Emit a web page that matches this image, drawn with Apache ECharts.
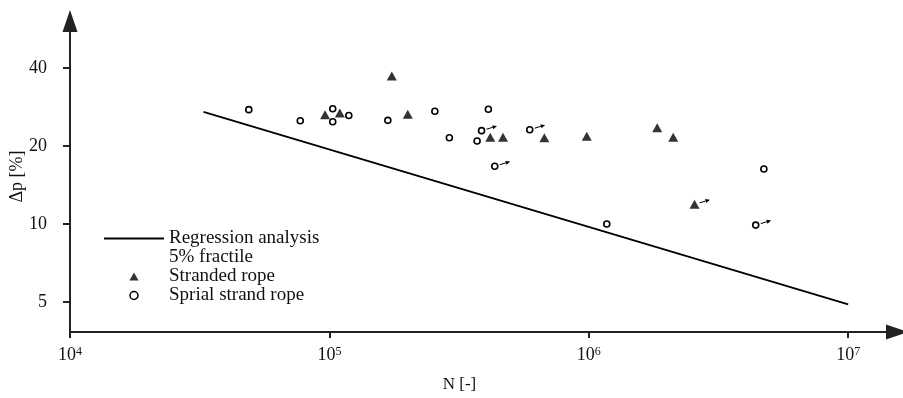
<!DOCTYPE html>
<html><head><meta charset="utf-8">
<script src="https://cdn.jsdelivr.net/npm/echarts@6/dist/echarts.min.js"></script>
<style>html,body{margin:0;padding:0;background:#fff}#c{width:903px;height:398px}</style>
</head><body><div id="c"></div>
<script>
// ---- data ----
const xTicks = [1e4, 1e5, 1e6, 1e7];
const yTicks = [5, 10, 20, 40];

const regressionN  = [32700, 1e7];
const regressionDp = [27.06, 4.90];

const strandedN  = [96200, 109700, 174000, 200500, 417000, 467000, 674000, 982000, 1835000, 2115000, 2556000];
const strandedDp = [26.4, 26.8, 37.2, 26.5, 21.6, 21.6, 21.5, 21.8, 23.5, 21.6, 11.9];
const strandedRunout = [10];

const spiralN  = [48900, 77200, 103000, 103000, 118800, 168000, 255000, 290000, 371000, 386000, 410000, 434000, 592000, 1173000, 4400000, 4730000];
const spiralDp = [27.6, 25.0, 27.8, 24.8, 26.2, 25.1, 27.2, 21.5, 20.9, 22.9, 27.7, 16.7, 23.1, 10.0, 9.9, 16.3];
const spiralRunout = [9, 11, 12, 14];

// ---- build ----
const FONT = "'Liberation Serif','Times New Roman',serif";
const TXT = '#111';
const AX = '#222';
const zip = (a, b) => a.map((v, i) => [v, b[i]]);
const runoutPts = strandedRunout.map(i => [strandedN[i], strandedDp[i]])
  .concat(spiralRunout.map(i => [spiralN[i], spiralDp[i]]));

function renderArrow(params, api) {
  const p = api.coord([api.value(0), api.value(1)]);
  const x0 = p[0] + 5, y0 = p[1] - 1.5, x1 = p[0] + 14, y1 = p[1] - 4.2;
  const ang = Math.atan2(y1 - y0, x1 - x0);
  const c = Math.cos(ang), s = Math.sin(ang);
  const hl = 4.5, hw = 2;
  const tip = [x1 + c * 1.5, y1 + s * 1.5];
  const bx = tip[0] - c * hl, by = tip[1] - s * hl;
  const nx = -s * hw, ny = c * hw;
  return {type: 'group', children: [
    {type: 'line', shape: {x1: x0, y1: y0, x2: bx, y2: by}, style: {stroke: '#000', lineWidth: 1}},
    {type: 'polygon', shape: {points: [tip, [bx + nx, by + ny], [bx - nx, by - ny]]}, style: {fill: '#000'}}
  ]};
}

const chart = echarts.init(document.getElementById('c'), null, {renderer: 'canvas'});
chart.setOption({
  animation: false,
  backgroundColor: '#fff',
  grid: {left: 70, right: 6, top: 21, bottom: 66, containLabel: false, outerBoundsMode: 'none'},
  legend: {
    left: 104, top: 210, orient: 'vertical', padding: 0, itemGap: 0,
    itemWidth: 60, itemHeight: 8, selectedMode: false, symbolKeepAspect: true,
    textStyle: {fontFamily: FONT, fontSize: 19, lineHeight: 19, color: TXT},
    formatter: name => name === 'Regression analysis' ? '\nRegression analysis\n5% fractile' : name,
    data: [
      {name: 'Regression analysis', icon: 'path://M0,0H60V1.8H0Z', itemStyle: {color: '#000', borderWidth: 0}},
      {name: 'Stranded rope', icon: 'path://M4,0L8,7L0,7Z', itemStyle: {color: '#000', borderWidth: 0}},
      {name: 'Sprial strand rope', icon: 'path://M3.5,0A3.5,3.5,0,1,1,3.49,0Z', itemStyle: {color: '#fff', borderColor: '#000', borderWidth: 1.5}}
    ]
  },
  xAxis: {
    type: 'log', logBase: 10, min: 1e4, max: 1.542e7,
    name: 'N [-]', nameLocation: 'middle', nameGap: 44, nameMoveOverlap: false,
    nameTextStyle: {fontFamily: FONT, fontSize: 17, color: TXT, padding: [0, 48, 0, 0]},
    axisLine: {onZero: false, lineStyle: {color: AX, width: 2}, symbol: ['none', 'triangle'], symbolSize: [15, 22]},
    axisTick: {length: 6, lineStyle: {color: AX, width: 2}, customValues: xTicks},
    axisLabel: {
      customValues: xTicks, margin: 14,
      formatter: v => '{b|10}{s|' + Math.round(Math.log10(v)) + '}',
      rich: {
        b: {fontFamily: FONT, fontSize: 18, color: TXT},
        s: {fontFamily: FONT, fontSize: 12, color: TXT, verticalAlign: 'top'}
      }
    },
    splitLine: {show: false}, minorTick: {show: false}
  },
  yAxis: {
    type: 'log', logBase: 10, min: 3.831, max: 60.64,
    name: 'Δp [%]', nameLocation: 'middle', nameGap: 44, nameMoveOverlap: false,
    nameTextStyle: {fontFamily: FONT, fontSize: 18, color: TXT},
    axisLine: {onZero: false, lineStyle: {color: AX, width: 2}, symbol: ['none', 'triangle'], symbolSize: [15, 22]},
    axisTick: {length: 7, lineStyle: {color: AX, width: 2}, customValues: yTicks},
    axisLabel: {customValues: yTicks, margin: 23, fontFamily: FONT, fontSize: 18, color: TXT,
      formatter: v => String(Math.round(v))},
    splitLine: {show: false}, minorTick: {show: false}
  },
  series: [
    {name: 'Regression analysis', type: 'line', data: zip(regressionN, regressionDp),
      symbol: 'none', showSymbol: false, lineStyle: {color: '#000', width: 1.8}, itemStyle: {color: '#000'}, silent: true, z: 2},
    {name: 'Stranded rope', type: 'scatter', data: zip(strandedN, strandedDp),
      symbol: 'triangle', symbolSize: [10, 9], itemStyle: {color: '#000'}, z: 4},
    {name: 'Sprial strand rope', type: 'scatter', data: zip(spiralN, spiralDp),
      symbol: 'circle', symbolSize: 6, itemStyle: {color: '#fff', borderColor: '#000', borderWidth: 1.6, opacity: 1}, z: 4},
    {name: 'runout', type: 'custom', coordinateSystem: 'cartesian2d', data: runoutPts,
      encode: {x: 0, y: 1}, renderItem: renderArrow, silent: true, z: 3}
  ]
});
</script></body></html>
